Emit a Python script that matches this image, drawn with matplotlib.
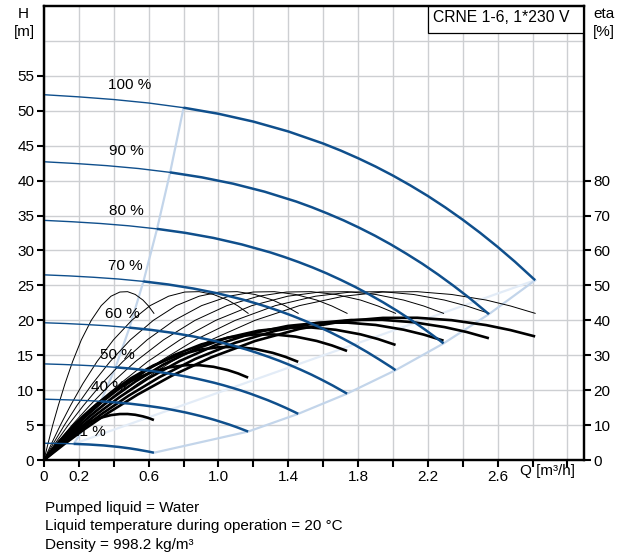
import matplotlib
matplotlib.use('Agg')
import matplotlib.pyplot as plt
from matplotlib.patches import Rectangle

plt.rcParams['font.family'] = ['Liberation Sans', 'DejaVu Sans']

# pump speeds and where their labels sit
speeds = ['100 %', '90 %', '80 %', '70 %', '60 %', '50 %', '40 %', '21 %']
label_q = [0.493, 0.474, 0.474, 0.464, 0.447, 0.418, 0.371, 0.255]
label_h = [53.7, 44.2, 35.7, 27.8, 20.9, 15.0, 10.5, 4.05]

# QH curves: thin part (below min flow), thick part (operating range)
qh_thin_q = [
    [0, 0.2, 0.4, 0.6, 0.8],
    [0, 0.181, 0.361, 0.542, 0.723],
    [0, 0.162, 0.324, 0.486, 0.648],
    [0, 0.142, 0.285, 0.427, 0.570],
    [0, 0.123, 0.245, 0.368, 0.490],
    [0, 0.103, 0.205, 0.308, 0.410],
    [0, 0.082, 0.163, 0.245, 0.326],
    [0, 0.043, 0.086, 0.129, 0.171],
]
qh_thin_h = [
    [52.3, 51.99, 51.61, 51.11, 50.44],
    [42.70, 42.45, 42.14, 41.73, 41.18],
    [34.31, 34.11, 33.86, 33.53, 33.09],
    [26.51, 26.36, 26.16, 25.91, 25.57],
    [19.65, 19.54, 19.39, 19.21, 18.95],
    [13.76, 13.68, 13.58, 13.45, 13.27],
    [8.71, 8.65, 8.59, 8.51, 8.40],
    [2.40, 2.39, 2.37, 2.35, 2.31],
]
qh_thick_q = [
    [0.8, 1.0, 1.2, 1.4, 1.6, 1.7, 1.8, 1.9, 2.0, 2.1, 2.2, 2.3, 2.4, 2.5, 2.6, 2.7, 2.815],
    [0.723, 0.904, 1.084, 1.265, 1.446, 1.536, 1.626, 1.717, 1.807, 1.898, 1.988, 2.078,
     2.169, 2.259, 2.349, 2.440, 2.530, 2.550],
    [0.648, 0.810, 0.972, 1.134, 1.296, 1.377, 1.458, 1.539, 1.620, 1.701, 1.782, 1.863,
     1.944, 2.025, 2.106, 2.187, 2.268, 2.290],
    [0.570, 0.712, 0.854, 0.997, 1.139, 1.210, 1.282, 1.353, 1.424, 1.495, 1.566, 1.638,
     1.709, 1.780, 1.851, 1.922, 1.994, 2.015],
    [0.490, 0.613, 0.736, 0.858, 0.981, 1.042, 1.103, 1.165, 1.226, 1.287, 1.349, 1.410,
     1.471, 1.533, 1.594, 1.655, 1.716, 1.737],
    [0.410, 0.513, 0.616, 0.718, 0.821, 0.872, 0.923, 0.975, 1.026, 1.077, 1.129, 1.180,
     1.231, 1.283, 1.334, 1.385, 1.436, 1.457],
    [0.326, 0.408, 0.490, 0.571, 0.653, 0.694, 0.734, 0.775, 0.816, 0.857, 0.898, 0.938,
     0.979, 1.020, 1.061, 1.102, 1.142, 1.170],
    [0.171, 0.257, 0.343, 0.428, 0.493, 0.536, 0.578, 0.600, 0.621, 0.630],
]
qh_thick_h = [
    [50.44, 49.57, 48.45, 47.04, 45.31, 44.31, 43.21, 42.02, 40.72, 39.31, 37.80, 36.16,
     34.40, 32.52, 30.51, 28.37, 25.74],
    [41.18, 40.47, 39.56, 38.41, 37.00, 36.18, 35.28, 34.31, 33.25, 32.10, 30.86, 29.52,
     28.09, 26.55, 24.91, 23.16, 21.30, 20.88],
    [33.09, 32.52, 31.79, 30.86, 29.73, 29.07, 28.35, 27.57, 26.72, 25.79, 24.80, 23.72,
     22.57, 21.34, 20.02, 18.61, 17.12, 16.69],
    [25.57, 25.13, 24.56, 23.85, 22.97, 22.46, 21.90, 21.30, 20.64, 19.93, 19.16, 18.33,
     17.44, 16.49, 15.47, 14.38, 13.23, 12.86],
    [18.95, 18.63, 18.21, 17.68, 17.03, 16.65, 16.24, 15.79, 15.30, 14.77, 14.20, 13.59,
     12.93, 12.22, 11.46, 10.66, 9.80, 9.50],
    [13.27, 13.05, 12.75, 12.38, 11.92, 11.66, 11.37, 11.06, 10.72, 10.35, 9.95, 9.52,
     9.05, 8.56, 8.03, 7.47, 6.87, 6.61],
    [8.40, 8.25, 8.07, 7.83, 7.54, 7.38, 7.19, 6.99, 6.78, 6.54, 6.29, 6.02,
     5.73, 5.41, 5.08, 4.72, 4.34, 4.07],
    [2.31, 2.22, 2.08, 1.87, 1.66, 1.49, 1.30, 1.20, 1.09, 1.04],
]

# operating range limits
bound_min_q = [0.171, 0.326, 0.410, 0.490, 0.570, 0.648, 0.723, 0.8]
bound_min_h = [2.31, 8.40, 13.27, 18.95, 25.57, 33.09, 41.18, 50.44]
bound_max_q = [0.63, 1.17, 1.457, 1.737, 2.015, 2.29, 2.55, 2.815]
bound_max_h = [1.04, 4.07, 6.61, 9.50, 12.86, 16.69, 20.88, 25.74]
faint_q = [0.171, 2.815]
faint_h = [2.31, 25.74]

# flow points of the eta curves for each speed
eta_q = [
    [0, 0.113, 0.225, 0.366, 0.535, 0.732, 0.957, 1.210, 1.464, 1.717, 1.942, 2.139, 2.336, 2.534, 2.674, 2.815],
    [0, 0.102, 0.204, 0.332, 0.485, 0.663, 0.867, 1.097, 1.326, 1.556, 1.760, 1.938, 2.117, 2.295, 2.423, 2.55],
    [0, 0.092, 0.183, 0.298, 0.435, 0.595, 0.779, 0.985, 1.191, 1.397, 1.580, 1.740, 1.901, 2.061, 2.176, 2.29],
    [0, 0.081, 0.161, 0.262, 0.383, 0.524, 0.685, 0.866, 1.048, 1.229, 1.390, 1.531, 1.672, 1.814, 1.914, 2.015],
    [0, 0.069, 0.139, 0.226, 0.330, 0.452, 0.591, 0.747, 0.903, 1.060, 1.199, 1.320, 1.442, 1.563, 1.650, 1.737],
    [0, 0.058, 0.117, 0.189, 0.277, 0.379, 0.495, 0.627, 0.758, 0.889, 1.005, 1.107, 1.209, 1.311, 1.384, 1.457],
    [0, 0.047, 0.094, 0.152, 0.222, 0.304, 0.398, 0.503, 0.608, 0.714, 0.807, 0.889, 0.971, 1.053, 1.112, 1.17],
    [0, 0.025, 0.050, 0.082, 0.120, 0.164, 0.214, 0.271, 0.328, 0.384, 0.435, 0.479, 0.523, 0.567, 0.599, 0.63],
]
# pump efficiency (thin black), same values for each speed
eta_pump_pct = [0, 5.1, 10.0, 15.6, 21.8, 28.2, 34.4, 40.0, 44.2, 46.9, 48.1, 48.2, 47.4, 45.8, 44.1, 42.0]
# total efficiency (thick black)
eta_tot_pct = [
    [0, 4.42, 8.58, 13.42, 18.69, 24.12, 29.37, 34.08, 37.54, 39.75, 40.69, 40.73, 40.04, 38.63, 37.19, 35.38],
    [0, 4.36, 8.45, 13.22, 18.41, 23.76, 28.94, 33.58, 36.98, 39.17, 40.09, 40.13, 39.45, 38.06, 36.64, 34.86],
    [0, 4.27, 8.29, 12.96, 18.05, 23.29, 28.36, 32.91, 36.25, 38.39, 39.30, 39.33, 38.67, 37.31, 35.91, 34.17],
    [0, 4.12, 7.99, 12.50, 17.41, 22.46, 27.35, 31.74, 34.96, 37.03, 37.90, 37.94, 37.29, 35.98, 34.64, 32.95],
    [0, 3.90, 7.57, 11.84, 16.49, 21.28, 25.91, 30.07, 33.12, 35.08, 35.91, 35.94, 35.33, 34.09, 32.81, 31.22],
    [0, 3.51, 6.81, 10.66, 14.84, 19.15, 23.32, 27.07, 29.81, 31.57, 32.32, 32.35, 31.80, 30.68, 29.53, 28.10],
    [0, 2.95, 5.72, 8.94, 12.46, 16.08, 19.58, 22.72, 25.02, 26.50, 27.13, 27.15, 26.69, 25.75, 24.79, 23.59],
    [0, 1.43, 2.78, 4.34, 6.04, 7.80, 9.50, 11.02, 12.14, 12.86, 13.16, 13.17, 12.95, 12.49, 12.03, 11.44],
]

x_ticks = [0, 0.2, 0.4, 0.6, 0.8, 1.0, 1.2, 1.4, 1.6, 1.8, 2.0, 2.2, 2.4, 2.6, 2.8, 3.0]
x_labels = ['0', '0.2', '', '0.6', '', '1.0', '', '1.4', '', '1.8', '', '2.2', '', '2.6', '', '']
h_ticks = [0, 5, 10, 15, 20, 25, 30, 35, 40, 45, 50, 55, 60]
h_labels = ['0', '5', '10', '15', '20', '25', '30', '35', '40', '45', '50', '55', '']
eta_ticks = [0, 10, 20, 30, 40, 50, 60, 70, 80]

blue = '#0f4f8c'
pale = '#c3d5ea'
faint = '#e3ecf7'

fig = plt.figure(figsize=(6.24, 5.56), dpi=100)
ax = fig.add_axes([44 / 624, 1 - 460 / 556, 540 / 624, 454 / 556])
ax.set_xlim(0, 3.095)
ax.set_ylim(0, 65)
ax2 = ax.twinx()
ax2.set_ylim(0, 130)

ax.set_axisbelow(True)
ax.grid(True, color='#cdcfd2', lw=1.0)

# operating range lines
ax.plot(faint_q, faint_h, color=faint, lw=1.6, zorder=2)
ax.plot(bound_max_q, bound_max_h, color=pale, lw=1.6, zorder=2)
ax.plot(bound_min_q, bound_min_h, color=pale, lw=1.6, zorder=2)

for i, lab in enumerate(speeds):
    ax.text(label_q[i], label_h[i], lab, ha='center', va='center', fontsize=11, zorder=2.5)

# efficiency curves, drawn in the eta scale
for i in range(len(speeds)):
    ax.plot(eta_q[i], eta_pump_pct, color='black', lw=0.7,
            transform=ax2.transData, zorder=3)
    ax.plot(eta_q[i], eta_tot_pct[i], color='black', lw=1.9,
            solid_capstyle='butt', transform=ax2.transData, zorder=3.2)

# QH curves
for i in range(len(speeds)):
    ax.plot(qh_thin_q[i], qh_thin_h[i], color=blue, lw=1.0, zorder=4)
    ax.plot(qh_thick_q[i], qh_thick_h[i], color=blue, lw=1.8,
            solid_capstyle='butt', zorder=4)

ax.set_xticks(x_ticks)
ax.set_xticklabels(x_labels)
ax.set_yticks(h_ticks)
ax.set_yticklabels(h_labels)
ax.yaxis.get_major_ticks()[-1].tick1line.set_visible(False)
ax.tick_params(direction='out', length=5, width=1.5, labelsize=11, pad=2)

ax2.set_yticks(eta_ticks)
ax2.set_yticklabels([str(v) for v in eta_ticks])
ax2.tick_params(direction='out', length=5, width=1.5, labelsize=11, pad=2)

for a in (ax, ax2):
    for s in a.spines.values():
        s.set_linewidth(1.6)

# title box
ax.add_patch(Rectangle((0.711, 0.9405), 0.289, 0.0595, transform=ax.transAxes,
                       facecolor='white', edgecolor='black', lw=0.9, zorder=5))
ax.text(0.720, 0.9736, 'CRNE 1-6, 1*230 V', transform=ax.transAxes,
        va='center', ha='left', fontsize=11.3, zorder=6)

fig.text(23 / 624, 1 - 14 / 556, 'H', ha='center', va='center', fontsize=11)
fig.text(24 / 624, 1 - 32 / 556, '[m]', ha='center', va='center', fontsize=11)
fig.text(593 / 624, 1 - 14 / 556, 'eta', ha='left', va='center', fontsize=11)
fig.text(593 / 624, 1 - 32 / 556, '[%]', ha='left', va='center', fontsize=11)
fig.text(548 / 624, 1 - 471 / 556, 'Q [m³/h]', ha='center', va='center', fontsize=11)

fig.text(45 / 624, 1 - 508 / 556, 'Pumped liquid = Water', ha='left', va='center', fontsize=11)
fig.text(45 / 624, 1 - 526 / 556, 'Liquid temperature during operation = 20 °C',
         ha='left', va='center', fontsize=11)
fig.text(45 / 624, 1 - 545 / 556, 'Density = 998.2 kg/m³', ha='left', va='center', fontsize=11)

fig.savefig('out.png', dpi=100)
